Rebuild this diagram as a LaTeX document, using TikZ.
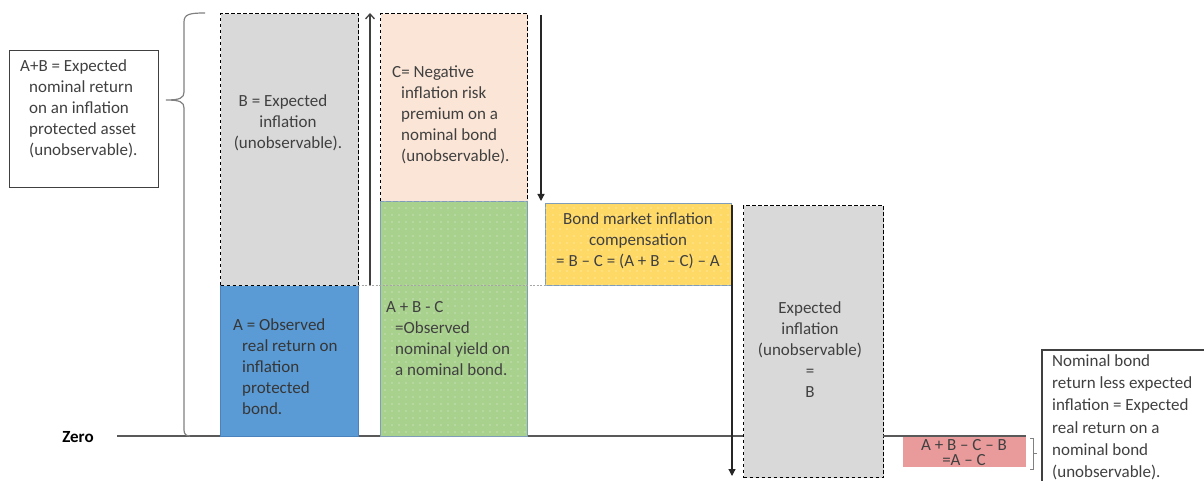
\documentclass[tikz,border=0pt]{standalone}
\usepackage{fontspec}
\setmainfont{Carlito}
\usetikzlibrary{arrows.meta,patterns.meta}
\definecolor{tc}{HTML}{404040}
\definecolor{grayfill}{HTML}{D9D9D9}
\definecolor{bluefill}{HTML}{5B9BD5}
\definecolor{blueedge}{HTML}{4A82BE}
\definecolor{peach}{HTML}{FBE5D6}
\definecolor{greenfill}{HTML}{A9D18E}
\definecolor{yellowfill}{HTML}{FFD966}
\definecolor{pinkfill}{HTML}{E99B9B}
\definecolor{thinedge}{HTML}{7F9DB9}
\definecolor{linegray}{HTML}{595959}
\tikzset{
  txt/.style={font=\fontsize{17}{21}\selectfont, text=tc, inner sep=0pt, align=left},
  ctxt/.style={txt, align=center},
  dbox/.style={draw=black, dash pattern=on 3.5pt off 2.5pt, line width=1.3pt, inner sep=0pt},
  sbox/.style={draw=thinedge, line width=0.8pt, inner sep=0pt},
  dotted fill/.style={postaction={pattern={Dots[distance=7pt,radius=0.55pt]}, pattern color=white!70!#1}},
  thinline/.style={draw=linegray, line width=1.4pt},
  bracestyle/.style={draw=gray, line width=1.2pt},
}
\begin{document}
\begin{tikzpicture}[x=1pt,y=-1pt]
\useasboundingbox (0,0) rectangle (1204,481);
% baseline
\coordinate (z0) at (117,436);
\coordinate (z1) at (743,436);
\coordinate (z2) at (883,436);
\coordinate (z3) at (1026,436);
\draw[thinline] (z0) -- (z1);
\node[font=\fontsize{17}{21}\selectfont\bfseries, text=black, inner sep=0pt] (zero) at (78,437) {Zero};

% left text box
\node[draw=tc, line width=1.2pt, minimum width=149pt, minimum height=137pt, anchor=north west, inner sep=0pt] (ABbox) at (9,50) {};
\node[txt, anchor=north west] (ABtxt) at (20,59.5) {A+B = Expected\\\hspace*{9pt}nominal return\\\hspace*{9pt}on an inflation\\\hspace*{9pt}protected asset\\\hspace*{9pt}(unobservable).};

% brace
\draw[bracestyle] (205,13) .. controls (190,13) and (184,14) .. (184,22) -- (184,92) .. controls (184,98) and (180,100) .. (166,100)
  .. controls (180,100) and (184,102) .. (184,108) -- (184,430) .. controls (184,434) and (186,436) .. (190,436);

% A and B
\node[fill=bluefill, draw=blueedge, line width=0.6pt, minimum width=138pt, minimum height=151pt, anchor=north west, inner sep=0pt] (A) at (220,285) {};
\node[dbox, fill=grayfill, minimum width=138pt, minimum height=272pt, anchor=north west] (B) at (220,13) {};
\node[ctxt, anchor=north] (Btxt) at (288,94.5) {B = Expected\hspace*{10pt}\\inflation\\(unobservable).};
\node[txt, anchor=north west, text=tc!85!black] (Atxt) at (233,318.5) {A = Observed\\\hspace*{9pt}real return on\\\hspace*{9pt}inflation\\\hspace*{9pt}protected\\\hspace*{9pt}bond.};

% up arrow
\coordinate (up0) at (370,285);
\coordinate (up1) at (370,13);
\draw[draw=tc, line width=1.3pt, -{Straight Barb[length=5pt,width=9pt]}] (up0) -- (up1);

% C and green
\node[dbox, fill=peach, minimum width=147pt, minimum height=188pt, anchor=north west] (C) at (380,13) {};
\node[txt, anchor=north west] (Ctxt) at (392,65.5) {C= Negative\\\hspace*{9pt}inflation risk\\\hspace*{9pt}premium on a\\\hspace*{9pt}nominal bond\\\hspace*{9pt}(unobservable).};
\node[sbox, fill=greenfill, dotted fill=greenfill, minimum width=147pt, minimum height=235pt, anchor=north west] (G) at (380,201) {};
\node[txt, anchor=north west] (Gtxt) at (386,301.5) {A + B - C\\\hspace*{9pt}=Observed\\\hspace*{9pt}nominal yield on\\\hspace*{9pt}a nominal bond.};

% thin dashed level line
\coordinate (lv0) at (358,285);
\coordinate (lv1) at (545,285);
\draw[draw=gray!70, line width=0.6pt, dash pattern=on 2pt off 1.5pt] (lv0) -- (lv1);

% down arrow 1
\coordinate (d0) at (541,15);
\coordinate (d1) at (541,201);
\draw[draw=black!85, line width=1.2pt, -{Triangle[length=7pt,width=7pt]}] (d0) -- (d1);

% yellow
\node[sbox, fill=yellowfill, dotted fill=yellowfill, minimum width=186pt, minimum height=82pt, anchor=north west] (Y) at (545,203) {};
\node[ctxt, anchor=north] (Ytxt) at (638,212.5) {Bond market inflation\\compensation\\= B – C = (A + B\ \ – C) – A};

% down arrow 2
\coordinate (e0) at (732,205);
\coordinate (e1) at (732,476);
\draw[draw=black!85, line width=1.2pt, -{Triangle[length=7pt,width=7pt]}] (e0) -- (e1);

% gray 2
\node[dbox, fill=grayfill, minimum width=140pt, minimum height=272pt, anchor=north west] (E) at (743,205) {};
\node[ctxt, anchor=north] (Etxt) at (810,301.5) {Expected\\inflation\\(unobservable)\\=\\B};

% pink
\node[fill=pinkfill, minimum width=123pt, minimum height=30pt, anchor=north west, inner sep=0pt] (P) at (903,437) {};
\draw[thinline] (z2) -- (z3);
\node[ctxt, font=\fontsize{17}{15.5}\selectfont, anchor=north] (Ptxt) at (964,439) {A + B – C – B\\=A – C};

% small bracket
\draw[draw=gray, line width=0.9pt] (1030,438) -- (1033,438) -- (1033,469) -- (1030,469);
\draw[draw=gray, line width=0.9pt] (1033,453) -- (1037,453);

% right text box
\coordinate (r0) at (1204,350);
\coordinate (r1) at (1042,350);
\coordinate (r2) at (1042,481);
\draw[draw=tc, line width=1.2pt] (r0) -- (r1) -- (r2);
\node[txt, font=\fontsize{17}{22.2}\selectfont, anchor=north west] (Rtxt) at (1052,354.5) {Nominal bond\\return less expected\\inflation = Expected\\real return on a\\nominal bond\\(unobservable).};
\end{tikzpicture}
\end{document}
